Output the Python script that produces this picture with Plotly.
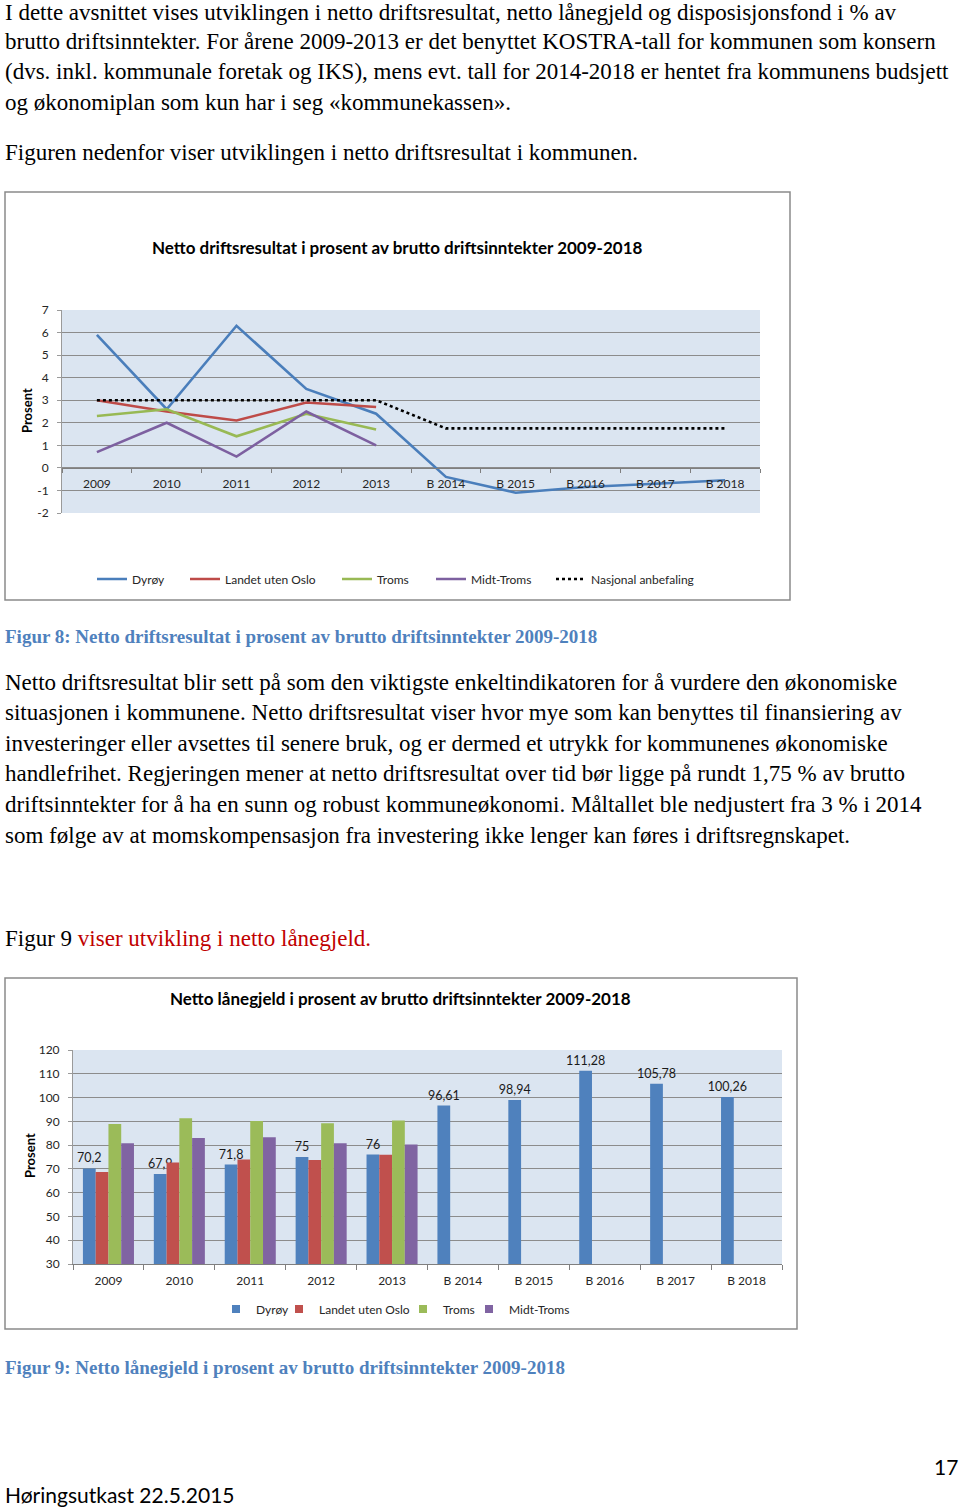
import plotly.graph_objects as go

W, H = 960, 1510

# ---------------- data ----------------
categories = ["2009", "2010", "2011", "2012", "2013", "B 2014", "B 2015", "B 2016", "B 2017", "B 2018"]

# Figure 8: netto driftsresultat (%)
ndr_dyroy = [5.9, 2.6, 6.3, 3.5, 2.4, -0.4, -1.1, -0.85, -0.7, -0.55]
ndr_landet = [3.0, 2.5, 2.1, 2.9, 2.7, None, None, None, None, None]
ndr_troms = [2.3, 2.6, 1.4, 2.4, 1.7, None, None, None, None, None]
ndr_midt = [0.7, 2.0, 0.5, 2.5, 1.0, None, None, None, None, None]
ndr_nasjonal = [3, 3, 3, 3, 3, 1.75, 1.75, 1.75, 1.75, 1.75]

# Figure 9: netto lånegjeld (%)
nlg_dyroy = [70.2, 67.9, 71.8, 75, 76, 96.61, 98.94, 111.28, 105.78, 100.26]
nlg_landet = [68.7, 72.7, 73.9, 73.7, 75.9, None, None, None, None, None]
nlg_troms = [88.9, 91.3, 90.1, 89.2, 90.3, None, None, None, None, None]
nlg_midt = [80.8, 83.0, 83.3, 80.8, 80.3, None, None, None, None, None]

series_names = ["Dyrøy", "Landet uten Oslo", "Troms", "Midt-Troms"]
nasjonal_name = "Nasjonal anbefaling"

y1_ticks = [-2, -1, 0, 1, 2, 3, 4, 5, 6, 7]
y2_ticks = [30, 40, 50, 60, 70, 80, 90, 100, 110, 120]

# ---------------- styles ----------------
line_colors = ["#4A7EBB", "#BE4B48", "#98B954", "#7D60A0"]
bar_colors = ["#4F81BD", "#C0504D", "#9BBB59", "#8064A2"]
PLOT_BG = "#dbe5f1"
GRID = "#8c8c8c"
SANS = "Lato, 'Open Sans', sans-serif"
SERIF = "'Liberation Serif', 'Times New Roman', serif"

# legend entry positions (pixels): left edge of each legend entry
leg1_x = [92, 185, 337, 431, 551]
leg1_y = 579
leg2_x = [216, 279, 403, 469]
leg2_y = 1309


def px(x):
    return x / W


def py(y):
    return 1 - y / H


def fmt(v):
    return f"{v:g}".replace(".", ",")


fig = go.Figure()
legend_layout = {}
leg_font = dict(family=SANS, size=12, color="#262626")


def leg_key(i):
    return "legend" if i == 0 else f"legend{i + 1}"


def add_legend(i, x, y):
    legend_layout[leg_key(i)] = dict(x=px(x), xanchor="left", y=py(y), yanchor="middle",
                                     orientation="h", font=leg_font, bgcolor="rgba(0,0,0,0)")


li = 0
# ---------- chart 1 : lines ----------
for name, vals, col in zip(series_names, [ndr_dyroy, ndr_landet, ndr_troms, ndr_midt], line_colors):
    fig.add_trace(go.Scatter(x=categories, y=vals, name=name, mode="lines",
                             line=dict(color=col, width=2.6), xaxis="x", yaxis="y",
                             legend=leg_key(li)))
    add_legend(li, leg1_x[li], leg1_y)
    li += 1
fig.add_trace(go.Scatter(x=categories, y=ndr_nasjonal, name=nasjonal_name, mode="lines",
                         line=dict(color="#000000", width=2.6, dash="dot"),
                         xaxis="x", yaxis="y", legend=leg_key(li)))
add_legend(li, leg1_x[li], leg1_y)
li += 1

# ---------- chart 2 : bars ----------
for i, (name, vals, col) in enumerate(zip(series_names, [nlg_dyroy, nlg_landet, nlg_troms, nlg_midt], bar_colors)):
    kw = {}
    if i == 0:
        kw = dict(text=[fmt(v) for v in vals], textposition="outside", constraintext="none",
                  textfont=dict(family=SANS, size=12.5, color="#1a1a1a"), cliponaxis=False)
    fig.add_trace(go.Bar(x=categories, y=vals, name=name, marker=dict(color=col, line=dict(width=0)),
                         xaxis="x2", yaxis="y2", showlegend=False, **kw))
    # small square legend key for the bar series
    fig.add_trace(go.Scatter(x=[None], y=[None], name=name, mode="markers",
                             marker=dict(symbol="square", size=8, color=col),
                             xaxis="x2", yaxis="y2", legend=leg_key(li), hoverinfo="skip"))
    add_legend(li, leg2_x[i], leg2_y)
    li += 1

# ---------- axes geometry ----------
c1_left, c1_right, c1_top, c1_bot = 62, 760, 310, 513
c2_left, c2_right, c2_top, c2_bot = 73, 782, 1050, 1264
y1_range = [min(y1_ticks), max(y1_ticks)]
y2_range = [min(y2_ticks), max(y2_ticks)]
y1_dom = [py(c1_bot), py(c1_top)]
x1_pos = y1_dom[0] + (0 - y1_range[0]) / (y1_range[1] - y1_range[0]) * (y1_dom[1] - y1_dom[0])

tickfont = dict(family=SANS, size=12, color="#262626")

fig.update_layout(
    width=W, height=H, margin=dict(l=0, r=0, t=0, b=0, autoexpand=False),
    paper_bgcolor="white", plot_bgcolor=PLOT_BG,
    barmode="group", bargap=0.28, bargroupgap=0,
    xaxis=dict(domain=[px(c1_left), px(c1_right)], anchor="free", position=x1_pos,
               type="category", range=[-0.5, len(categories) - 0.5],
               showline=True, linecolor="#7f7f7f", linewidth=1,
               ticks="outside", tickson="boundaries", ticklen=4, tickcolor="#7f7f7f",
               showgrid=False, tickfont=tickfont, ticklabelstandoff=5, fixedrange=True),
    yaxis=dict(domain=y1_dom, anchor="x", range=y1_range, tickvals=y1_ticks,
               ticktext=[str(v) for v in y1_ticks],
               showgrid=True, gridcolor=GRID, gridwidth=1, zeroline=False,
               showline=True, linecolor="#9a9a9a", ticks="outside", ticklen=4, tickcolor="#9a9a9a",
               tickfont=tickfont, ticklabelstandoff=6),
    xaxis2=dict(domain=[px(c2_left), px(c2_right)], anchor="y2", type="category",
                range=[-0.5, len(categories) - 0.5],
                showline=True, linecolor="#7f7f7f", ticks="outside", tickson="boundaries",
                ticklen=5, tickcolor="#7f7f7f", showgrid=False, tickfont=tickfont, ticklabelstandoff=6),
    yaxis2=dict(domain=[py(c2_bot), py(c2_top)], anchor="x2", range=y2_range, tickvals=y2_ticks,
                ticktext=[str(v) for v in y2_ticks],
                showgrid=True, gridcolor=GRID, gridwidth=1, zeroline=False,
                showline=True, linecolor="#9a9a9a", ticks="outside", ticklen=4, tickcolor="#9a9a9a",
                tickfont=tickfont, ticklabelstandoff=6),
    showlegend=True,
    **legend_layout,
)

# ---------- chart frames ----------
for (x0, y0, x1, y1) in [(5, 192, 790, 600), (5, 978, 797, 1329)]:
    fig.add_shape(type="rect", xref="paper", yref="paper", x0=px(x0), x1=px(x1), y0=py(y0), y1=py(y1),
                  line=dict(color="#8a8a8a", width=1.5), fillcolor="rgba(0,0,0,0)", layer="below")

annots = []


def txt(x, y, s, size=23, family=SERIF, color="#000000", xanchor="left", bold=False, angle=0,
        yanchor="middle"):
    if bold:
        s = f"<b>{s}</b>"
    annots.append(dict(x=px(x), y=py(y), xref="paper", yref="paper", text=s, showarrow=False,
                       xanchor=xanchor, yanchor=yanchor, textangle=angle, borderpad=0, borderwidth=0,
                       font=dict(family=family, size=size, color=color)))


TX = 5
para1 = [
    "I dette avsnittet vises utviklingen i netto driftsresultat, netto lånegjeld og disposisjonsfond i % av",
    "brutto driftsinntekter. For årene 2009-2013 er det benyttet KOSTRA-tall for kommunen som konsern",
    "(dvs. inkl. kommunale foretak og IKS), mens evt. tall for 2014-2018 er hentet fra kommunens budsjett",
    "og økonomiplan som kun har i seg «kommunekassen».",
]
for i, s in enumerate(para1):
    if i == 0:
        txt(TX, 0, s, yanchor="top")
    else:
        txt(TX, 11 + i * 30.5, s)
txt(TX, 152, "Figuren nedenfor viser utviklingen i netto driftsresultat i kommunen.")

para2 = [
    "Netto driftsresultat blir sett på som den viktigste enkeltindikatoren for å vurdere den økonomiske",
    "situasjonen i kommunene. Netto driftsresultat viser hvor mye som kan benyttes til finansiering av",
    "investeringer eller avsettes til senere bruk, og er dermed et utrykk for kommunenes økonomiske",
    "handlefrihet. Regjeringen mener at netto driftsresultat over tid bør ligge på rundt 1,75 % av brutto",
    "driftsinntekter for å ha en sunn og robust kommuneøkonomi. Måltallet ble nedjustert fra 3 % i 2014",
    "som følge av at momskompensasjon fra investering ikke lenger kan føres i driftsregnskapet.",
]
for i, s in enumerate(para2):
    txt(TX, 682 + i * 30.6, s)

txt(TX, 636, "Figur 8: Netto driftsresultat i prosent av brutto driftsinntekter 2009-2018",
    size=19, color="#4f81bd", bold=True)
txt(TX, 938, 'Figur 9 <span style="color:#c00000">viser utvikling i netto lånegjeld.</span>')
txt(TX, 1367, "Figur 9: Netto lånegjeld i prosent av brutto driftsinntekter 2009-2018",
    size=19, color="#4f81bd", bold=True)

# chart titles
txt(397, 247, "Netto driftsresultat i prosent av brutto driftsinntekter 2009-2018",
    size=17, family=SANS, xanchor="center", bold=True)
txt(400, 998, "Netto lånegjeld i prosent av brutto driftsinntekter 2009-2018",
    size=17, family=SANS, xanchor="center", bold=True)
# axis titles
txt(27, 411, "Prosent", size=13, family=SANS, xanchor="center", bold=True, angle=-90)
txt(30, 1156, "Prosent", size=13, family=SANS, xanchor="center", bold=True, angle=-90)

# footer
txt(TX, 1494, "Høringsutkast 22.5.2015", size=21, family=SANS)
txt(958, 1466, "17", size=21, family=SANS, xanchor="right")

fig.update_layout(annotations=annots)
fig.write_html("out.html")
